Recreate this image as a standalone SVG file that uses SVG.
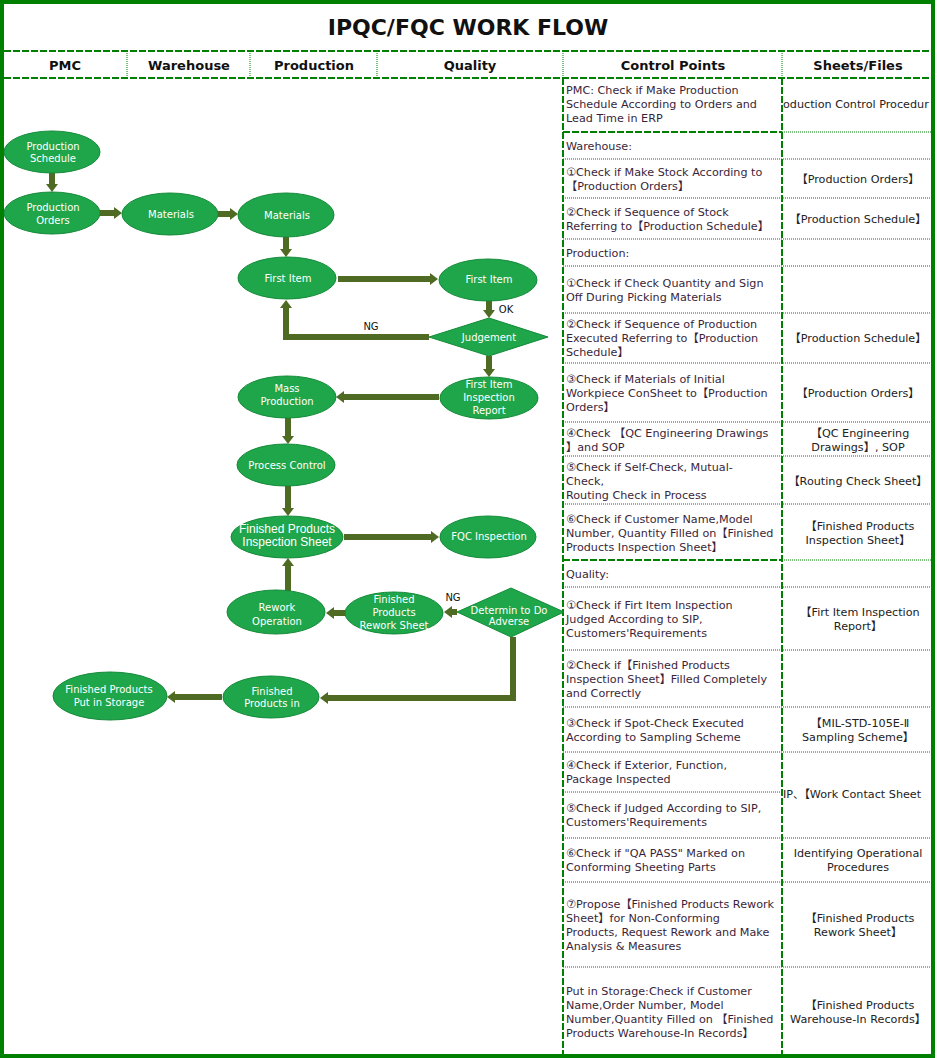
<svg xmlns="http://www.w3.org/2000/svg" width="937" height="1058" viewBox="0 0 937 1058">
<style>
.title{font-family:"DejaVu Sans","Noto Sans CJK SC",sans-serif;font-weight:bold;font-size:22px;fill:#111;text-anchor:middle}
.hd{font-family:"DejaVu Sans","Noto Sans CJK SC",sans-serif;font-weight:bold;font-size:13px;fill:#111;text-anchor:middle}
.cp{font-family:"DejaVu Sans","Noto Sans CJK SC",sans-serif;font-size:11.2px;fill:#3a1f3a}
.sf{font-family:"DejaVu Sans","Noto Sans CJK SC",sans-serif;font-size:11.2px;fill:#222;text-anchor:middle}
.sfl{font-family:"DejaVu Sans","Noto Sans CJK SC",sans-serif;font-size:11.2px;fill:#222}
.dsh{stroke:#008000;stroke-width:2;stroke-dasharray:7 2;fill:none}
.dot{stroke:#008000;stroke-width:1;stroke-dasharray:1 1;fill:none}
.nd{fill:#1fa64a;stroke:#138a38;stroke-width:1}
.nt{font-family:"DejaVu Sans",sans-serif;font-size:10px;fill:#fff;text-anchor:middle}
.na{font-family:"Liberation Sans",Arial,sans-serif;font-size:12px;fill:#fff;text-anchor:middle}
.lb{font-family:"DejaVu Sans",sans-serif;font-size:10px;fill:#111;text-anchor:middle}
.ar{stroke:#4f6b23;stroke-width:6;fill:none;stroke-linejoin:miter;marker-end:url(#ah)}
</style>
<defs>
<marker id="ah" markerUnits="userSpaceOnUse" markerWidth="9" markerHeight="12" refX="0" refY="6" orient="auto">
<path d="M0,0 L8,6 L0,12 z" fill="#4f6b23"/>
</marker>
<clipPath id="cpSheet"><rect x="783" y="79" width="149" height="975"/></clipPath>
</defs>
<rect x="0" y="0" width="937" height="1058" fill="#fff"/>
<rect x="2" y="2" width="931" height="1054" fill="none" stroke="#008000" stroke-width="4"/>

<g id="title"><text class="title" x="468" y="35">IPQC/FQC WORK FLOW</text></g>

<g id="grid">
<line class="dsh" x1="4" y1="51" x2="931" y2="51"/>
<line class="dsh" x1="4" y1="78" x2="931" y2="78"/>
<line class="dot" x1="127" y1="51" x2="127" y2="78"/>
<line class="dot" x1="250" y1="51" x2="250" y2="78"/>
<line class="dot" x1="377" y1="51" x2="377" y2="78"/>
<line class="dot" x1="563" y1="51" x2="563" y2="78"/>
<line class="dot" x1="782" y1="51" x2="782" y2="78"/>
<line class="dsh" x1="563" y1="78" x2="563" y2="1054"/>
<line class="dsh" x1="782" y1="78" x2="782" y2="1054"/>
<line class="dsh" x1="563" y1="132" x2="782" y2="132"/>
<line class="dsh" x1="563" y1="560" x2="782" y2="560"/>
<g class="dot">
<line x1="782" y1="132" x2="931" y2="132"/>
<line x1="782" y1="560" x2="931" y2="560"/>
<line x1="563" y1="159" x2="931" y2="159"/>
<line x1="563" y1="198" x2="931" y2="198"/>
<line x1="563" y1="239" x2="931" y2="239"/>
<line x1="563" y1="266" x2="931" y2="266"/>
<line x1="563" y1="313" x2="931" y2="313"/>
<line x1="563" y1="363" x2="931" y2="363"/>
<line x1="563" y1="422" x2="931" y2="422"/>
<line x1="563" y1="456" x2="931" y2="456"/>
<line x1="563" y1="504" x2="931" y2="504"/>
<line x1="563" y1="587" x2="931" y2="587"/>
<line x1="563" y1="650" x2="931" y2="650"/>
<line x1="563" y1="707" x2="931" y2="707"/>
<line x1="563" y1="752" x2="931" y2="752"/>
<line x1="563" y1="792" x2="782" y2="792"/>
<line x1="563" y1="838" x2="931" y2="838"/>
<line x1="563" y1="882" x2="931" y2="882"/>
<line x1="563" y1="967" x2="931" y2="967"/>
</g>
</g>

<g id="headers">
<text class="hd" x="65" y="70">PMC</text>
<text class="hd" x="189" y="70">Warehouse</text>
<text class="hd" x="314" y="70">Production</text>
<text class="hd" x="470" y="70">Quality</text>
<text class="hd" x="673" y="70">Control Points</text>
<text class="hd" x="858" y="70">Sheets/Files</text>
</g>

<g id="control-points">
<text class="cp" x="566" y="94">PMC: Check if Make Production</text>
<text class="cp" x="566" y="108">Schedule According to Orders and</text>
<text class="cp" x="566" y="122">Lead Time in ERP</text>
<text class="cp" x="566" y="150">Warehouse:</text>
<text class="cp" x="566" y="176">①Check if Make Stock According to</text>
<text class="cp" x="566" y="190">【Production Orders】</text>
<text class="cp" x="566" y="216">②Check if Sequence of Stock</text>
<text class="cp" x="566" y="230">Referring to【Production Schedule】</text>
<text class="cp" x="566" y="257">Production:</text>
<text class="cp" x="566" y="287">①Check if Check Quantity and Sign</text>
<text class="cp" x="566" y="301">Off During Picking Materials</text>
<text class="cp" x="566" y="328">②Check if Sequence of Production</text>
<text class="cp" x="566" y="342">Executed Referring to【Production</text>
<text class="cp" x="566" y="356">Schedule】</text>
<text class="cp" x="566" y="383">③Check if Materials of Initial</text>
<text class="cp" x="566" y="397">Workpiece ConSheet to【Production</text>
<text class="cp" x="566" y="411">Orders】</text>
<text class="cp" x="566" y="437">④Check 【QC Engineering Drawings</text>
<text class="cp" x="566" y="451">】and SOP</text>
<text class="cp" x="566" y="471">⑤Check if Self-Check, Mutual-</text>
<text class="cp" x="566" y="485">Check,</text>
<text class="cp" x="566" y="499">Routing Check in Process</text>
<text class="cp" x="566" y="523">⑥Check if Customer Name,Model</text>
<text class="cp" x="566" y="537">Number, Quantity Filled on【Finished</text>
<text class="cp" x="566" y="551">Products Inspection Sheet】</text>
<text class="cp" x="566" y="578">Quality:</text>
<text class="cp" x="566" y="609">①Check if Firt Item Inspection</text>
<text class="cp" x="566" y="623">Judged According to SIP,</text>
<text class="cp" x="566" y="637">Customers'Requirements</text>
<text class="cp" x="566" y="669">②Check if【Finished Products</text>
<text class="cp" x="566" y="683">Inspection Sheet】Filled Completely</text>
<text class="cp" x="566" y="697">and Correctly</text>
<text class="cp" x="566" y="727">③Check if Spot-Check Executed</text>
<text class="cp" x="566" y="741">According to Sampling Scheme</text>
<text class="cp" x="566" y="769">④Check if Exterior, Function,</text>
<text class="cp" x="566" y="783">Package Inspected</text>
<text class="cp" x="566" y="812">⑤Check if Judged According to SIP,</text>
<text class="cp" x="566" y="826">Customers'Requirements</text>
<text class="cp" x="566" y="857">⑥Check if "QA PASS" Marked on</text>
<text class="cp" x="566" y="871">Conforming Sheeting Parts</text>
<text class="cp" x="566" y="908">⑦Propose【Finished Products Rework</text>
<text class="cp" x="566" y="922">Sheet】for Non-Conforming</text>
<text class="cp" x="566" y="936">Products, Request Rework and Make</text>
<text class="cp" x="566" y="950">Analysis &amp; Measures</text>
<text class="cp" x="566" y="995">Put in Storage:Check if Customer</text>
<text class="cp" x="566" y="1009">Name,Order Number, Model</text>
<text class="cp" x="566" y="1023">Number,Quantity Filled on 【Finished</text>
<text class="cp" x="566" y="1037">Products Warehouse-In Records】</text>
</g>

<g id="sheets-files">
<g clip-path="url(#cpSheet)">
<text class="sfl" x="783" y="108">oduction Control Procedur</text>
<text class="sfl" x="783" y="798">IP、【Work Contact Sheet</text>
</g>
<text class="sf" x="858" y="183">【Production Orders】</text>
<text class="sf" x="858" y="223">【Production Schedule】</text>
<text class="sf" x="858" y="342">【Production Schedule】</text>
<text class="sf" x="858" y="397">【Production Orders】</text>
<text class="sf" x="860" y="437">【QC Engineering</text>
<text class="sf" x="858" y="451">Drawings】, SOP</text>
<text class="sf" x="858" y="485">【Routing Check Sheet】</text>
<text class="sf" x="860" y="530">【Finished Products</text>
<text class="sf" x="858" y="544">Inspection Sheet】</text>
<text class="sf" x="860" y="616">【Firt Item Inspection</text>
<text class="sf" x="858" y="630">Report】</text>
<text class="sf" x="860" y="727">【MIL-STD-105E-Ⅱ</text>
<text class="sf" x="858" y="741">Sampling Scheme】</text>
<text class="sf" x="858" y="857">Identifying Operational</text>
<text class="sf" x="858" y="871">Procedures</text>
<text class="sf" x="860" y="922">【Finished Products</text>
<text class="sf" x="858" y="936">Rework Sheet】</text>
<text class="sf" x="860" y="1009">【Finished Products</text>
<text class="sf" x="858" y="1023">Warehouse-In Records】</text>
</g>

<g id="connectors">
<line class="ar" x1="52" y1="173" x2="52" y2="184"/>
<line class="ar" x1="100" y1="213" x2="114" y2="213"/>
<line class="ar" x1="218" y1="214" x2="230" y2="214"/>
<line class="ar" x1="286" y1="237" x2="286" y2="249"/>
<line class="ar" x1="338" y1="279" x2="430" y2="279"/>
<line class="ar" x1="489" y1="300" x2="489" y2="310"/>
<polyline class="ar" points="429,337 286,337 286,308"/>
<line class="ar" x1="489" y1="356" x2="489" y2="369"/>
<line class="ar" x1="439" y1="397" x2="344" y2="397"/>
<line class="ar" x1="288" y1="418" x2="288" y2="436"/>
<line class="ar" x1="288" y1="486" x2="288" y2="508"/>
<line class="ar" x1="344" y1="537" x2="431" y2="537"/>
<line class="ar" x1="288" y1="591" x2="288" y2="566"/>
<line class="ar" x1="346" y1="613" x2="334" y2="613"/>
<line class="ar" x1="457" y1="612" x2="452" y2="612"/>
<polyline class="ar" points="513,637 513,698 328,698"/>
<line class="ar" x1="222" y1="697" x2="175" y2="697"/>
<text class="lb" x="506" y="313">OK</text>
<text class="lb" x="371" y="330">NG</text>
<text class="lb" x="453" y="601">NG</text>
</g>

<g id="n-production-schedule">
<ellipse class="nd" cx="52" cy="152" rx="48" ry="21"/>
<text class="nt" x="53" y="149.5">Production</text>
<text class="nt" x="53" y="162">Schedule</text>
</g>
<g id="n-production-orders">
<ellipse class="nd" cx="52" cy="213" rx="48" ry="21"/>
<text class="nt" x="53" y="210.5">Production</text>
<text class="nt" x="53" y="223.5">Orders</text>
</g>
<g id="n-materials-wh">
<ellipse class="nd" cx="170" cy="214" rx="48" ry="21"/>
<text class="nt" x="171" y="217.5">Materials</text>
</g>
<g id="n-materials-pr">
<ellipse class="nd" cx="286" cy="215" rx="48" ry="22"/>
<text class="nt" x="287" y="218.5">Materials</text>
</g>
<g id="n-first-item-pr">
<ellipse class="nd" cx="287" cy="278" rx="49" ry="21"/>
<text class="nt" x="288" y="281.5">First Item</text>
</g>
<g id="n-first-item-q">
<ellipse class="nd" cx="488" cy="280" rx="49" ry="21"/>
<text class="nt" x="489" y="282.5">First Item</text>
</g>
<g id="n-judgement">
<polygon class="nd" points="429,337 489,318 548,337 489,356"/>
<text class="nt" x="489" y="340.5">Judgement</text>
</g>
<g id="n-first-item-report">
<ellipse class="nd" cx="489" cy="398" rx="49" ry="21"/>
<text class="nt" x="489" y="387.5">First Item</text>
<text class="nt" x="489" y="400.5">Inspection</text>
<text class="nt" x="489" y="413.5">Report</text>
</g>
<g id="n-mass-production">
<ellipse class="nd" cx="287" cy="397" rx="49" ry="21"/>
<text class="nt" x="287" y="391.5">Mass</text>
<text class="nt" x="287" y="404.5">Production</text>
</g>
<g id="n-process-control">
<ellipse class="nd" cx="286" cy="465" rx="49" ry="21"/>
<text class="nt" x="287" y="468.5">Process Control</text>
</g>
<g id="n-fp-inspection-sheet">
<ellipse class="nd" cx="287" cy="537" rx="56" ry="21"/>
<text class="na" x="287" y="533">Finished Products</text>
<text class="na" x="287" y="546">Inspection Sheet</text>
</g>
<g id="n-fqc-inspection">
<ellipse class="nd" cx="488" cy="537" rx="48" ry="21"/>
<text class="nt" x="489" y="539.5">FQC Inspection</text>
</g>
<g id="n-rework-operation">
<ellipse class="nd" cx="276" cy="612" rx="49" ry="22"/>
<text class="nt" x="277" y="610.5">Rework</text>
<text class="nt" x="277" y="624.5">Operation</text>
</g>
<g id="n-fp-rework-sheet">
<ellipse class="nd" cx="394" cy="613" rx="49" ry="21"/>
<text class="nt" x="394" y="602.5">Finished</text>
<text class="nt" x="394" y="615.5">Products</text>
<text class="nt" x="394" y="628.5">Rework Sheet</text>
</g>
<g id="n-determin">
<polygon class="nd" points="457,612 511,588 564,612 511,637"/>
<text class="nt" x="509" y="614">Determin to Do</text>
<text class="nt" x="509" y="624.5">Adverse</text>
</g>
<g id="n-fp-in">
<ellipse class="nd" cx="271" cy="697" rx="48" ry="21"/>
<text class="nt" x="272" y="694.5">Finished</text>
<text class="nt" x="272" y="706.5">Products in</text>
</g>
<g id="n-fp-storage">
<ellipse class="nd" cx="110" cy="696" rx="57" ry="24"/>
<text class="nt" x="109" y="692.5">Finished Products</text>
<text class="nt" x="109" y="705.5">Put in Storage</text>
</g>
</svg>
